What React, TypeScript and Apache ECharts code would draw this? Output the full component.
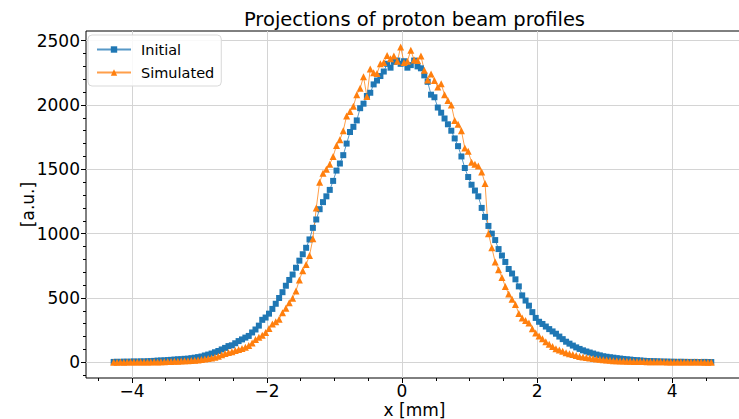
import React, { useEffect, useRef } from "react";
import * as echarts from "echarts";

const xValues = [
  -4.27, -4.22, -4.17, -4.12, -4.07, -4.02, -3.97, -3.92, -3.87, -3.82,
  -3.77, -3.72, -3.67, -3.62, -3.57, -3.52, -3.47, -3.42, -3.37, -3.32,
  -3.27, -3.22, -3.17, -3.12, -3.07, -3.02, -2.97, -2.92, -2.87, -2.82,
  -2.77, -2.72, -2.67, -2.62, -2.57, -2.52, -2.47, -2.42, -2.37, -2.32,
  -2.27, -2.22, -2.17, -2.12, -2.07, -2.02, -1.97, -1.92, -1.87, -1.82,
  -1.77, -1.72, -1.67, -1.62, -1.57, -1.52, -1.47, -1.42, -1.37, -1.32,
  -1.27, -1.22, -1.17, -1.12, -1.07, -1.02, -0.97, -0.92, -0.87, -0.82,
  -0.77, -0.72, -0.67, -0.62, -0.57, -0.52, -0.47, -0.42, -0.37, -0.32,
  -0.27, -0.22, -0.17, -0.12, -0.07, -0.02, 0.03, 0.08, 0.13, 0.18,
  0.23, 0.28, 0.33, 0.38, 0.43, 0.48, 0.53, 0.58, 0.63, 0.68,
  0.73, 0.78, 0.83, 0.88, 0.93, 0.98, 1.03, 1.08, 1.13, 1.18,
  1.23, 1.28, 1.33, 1.38, 1.43, 1.48, 1.53, 1.58, 1.63, 1.68,
  1.73, 1.78, 1.83, 1.88, 1.93, 1.98, 2.03, 2.08, 2.13, 2.18,
  2.23, 2.28, 2.33, 2.38, 2.43, 2.48, 2.53, 2.58, 2.63, 2.68,
  2.73, 2.78, 2.83, 2.88, 2.93, 2.98, 3.03, 3.08, 3.13, 3.18,
  3.23, 3.28, 3.33, 3.38, 3.43, 3.48, 3.53, 3.58, 3.63, 3.68,
  3.73, 3.78, 3.83, 3.88, 3.93, 3.98, 4.03, 4.08, 4.13, 4.18,
  4.23, 4.28, 4.33, 4.38, 4.43, 4.48, 4.53, 4.58,
];

const initialValues = [
  3, 4, 3, 5, 4, 5, 6, 5, 7, 6,
  8, 9, 11, 13, 14, 15, 17, 19, 21, 23,
  24, 27, 28, 32, 36, 40, 45, 53, 60, 68,
  78, 88, 100, 112, 126, 132, 148, 165, 178, 192,
  205, 232, 255, 285, 330, 348, 378, 415, 455, 500,
  545, 595, 640, 682, 735, 790, 840, 890, 955, 1045,
  1110, 1190, 1245, 1290, 1340, 1410, 1490, 1545, 1610, 1700,
  1790, 1830, 1880, 1975, 2010, 2070, 2095, 2160, 2190, 2225,
  2260, 2320, 2290, 2335, 2345, 2320, 2340, 2290, 2310, 2345,
  2300, 2285, 2230, 2180, 2080, 2060, 1980, 1940, 1895, 1850,
  1800, 1740, 1680, 1600, 1510, 1440, 1380, 1335, 1290, 1200,
  1130, 1060, 1000, 950, 880, 830, 780, 725, 690, 645,
  590, 520, 480, 440, 390, 345, 315, 298, 278, 258,
  240, 222, 200, 180, 160, 145, 130, 116, 104, 93,
  84, 76, 68, 60, 54, 47, 43, 39, 36, 32,
  29, 26, 23, 21, 18, 16, 14, 12, 10, 9,
  8, 7, 6, 5, 5, 4, 4, 3, 4, 3,
  3, 2, 3, 2, 2, 3, 2, 2,
];

const simulatedValues = [
  1, 1, 2, 1, 2, 2, 2, 3, 2, 3,
  3, 3, 4, 3, 4, 5, 6, 7, 8, 9,
  10, 12, 12, 14, 16, 18, 21, 25, 29, 33,
  40, 48, 58, 68, 76, 82, 92, 100, 108, 117,
  130, 150, 178, 195, 210, 232, 262, 298, 315, 335,
  385, 420, 462, 498, 555, 640, 712, 760, 830, 960,
  1200, 1400, 1470, 1500, 1540, 1600, 1685, 1730, 1800, 1915,
  1950, 1990, 2080, 2130, 2220, 2065, 2280, 2250, 2245, 2320,
  2330, 2385, 2360, 2380, 2340, 2450, 2330, 2340, 2425, 2350,
  2345, 2380, 2270, 2195, 2240, 2190, 2140, 2165, 2080, 2035,
  2000, 1880, 1850, 1800, 1665, 1640, 1555, 1540, 1525, 1480,
  1390, 1000, 890, 780, 720, 660, 590, 530, 490, 450,
  380, 345, 325, 305, 260, 228, 205, 184, 160, 140,
  122, 106, 96, 86, 75, 67, 60, 52, 46, 41,
  37, 33, 30, 26, 23, 20, 18, 15, 13, 12,
  11, 10, 9, 8, 7, 7, 6, 6, 5, 5,
  4, 4, 4, 4, 3, 3, 3, 3, 2, 2,
  2, 2, 2, 2, 2, 1, 1, 1,
];

const xTicks = [-4, -2, 0, 2, 4];
const xMinorTicks = [-4.5, -4, -3.5, -3, -2.5, -2, -1.5, -1, -0.5, 0, 0.5, 1, 1.5, 2, 2.5, 3, 3.5, 4, 4.5, 5];
const yTicks = [0, 500, 1000, 1500, 2000, 2500];
const yMinorTicks = [
  -100, 0, 100, 200, 300, 400, 500, 600, 700, 800, 900, 1000, 1100, 1200,
  1300, 1400, 1500, 1600, 1700, 1800, 1900, 2000, 2100, 2200, 2300, 2400, 2500,
];

const titleText = "Projections of proton beam profiles";
const xName = "x [mm]";
const yName = "[a.u.]";
const seriesNames = ["Initial", "Simulated"];

const FONT = '"DejaVu Sans", sans-serif';
const X_MIN = -4.68;
const X_MAX = 5.05;
const Y_MIN = -122;
const Y_MAX = 2575;

const fmt = (v: number) => (v < 0 ? "\u2212" + Math.abs(v) : String(v));

export default function App() {
  const ref = useRef<HTMLDivElement>(null);

  useEffect(() => {
    document.body.style.margin = "0";
    if (!ref.current) return;
    const chart = echarts.init(ref.current, null, { renderer: "svg" });

    const initialData = xValues.map((x, i) => [x, initialValues[i]]);
    const simulatedData = xValues.map((x, i) => [x, simulatedValues[i]]);

    const option: any = {
      animation: false,
      textStyle: { fontFamily: FONT },
      grid: {
        left: 86,
        top: 31,
        width: 657,
        height: 347,
        show: true,
        borderColor: "#000",
        borderWidth: 1,
        backgroundColor: "transparent",
        outerBoundsMode: "none",
        containLabel: false,
      },
      graphic: [
        {
          type: "text",
          x: 414.5,
          y: 19,
          style: {
            text: titleText,
            fontSize: 19.5,
            fontFamily: FONT,
            fill: "#000",
            align: "center",
            verticalAlign: "middle",
          },
        },
      ],
      legend: {
        orient: "vertical",
        left: 88,
        top: 35,
        data: seriesNames,
        itemWidth: 34,
        itemHeight: 8,
        itemGap: 8,
        padding: [7, 7, 6, 8],
        backgroundColor: "rgba(255,255,255,0.85)",
        borderColor: "#d9d9d9",
        borderWidth: 1,
        borderRadius: 4,
        textStyle: { fontSize: 14.5, color: "#000", fontFamily: FONT, padding: [0, 0, 0, 5] },
      },
      xAxis: [
        {
          type: "value",
          min: X_MIN,
          max: X_MAX,
          position: "bottom",
          name: xName,
          nameLocation: "middle",
          nameGap: 24,
          nameMoveOverlap: false,
          nameTextStyle: { fontSize: 17, color: "#000", fontFamily: FONT, lineHeight: 15 },
          axisLine: { show: false, onZero: false },
          axisTick: { show: true, length: 5, lineStyle: { color: "#000" }, customValues: xTicks },
          axisLabel: {
            customValues: xTicks,
            fontSize: 17,
            lineHeight: 15,
            color: "#000",
            margin: 5,
            formatter: fmt,
          },
          splitLine: { show: true, lineStyle: { color: "#d4d4d4", width: 1 } },
        },
        {
          type: "value",
          min: X_MIN,
          max: X_MAX,
          position: "bottom",
          axisLine: { show: false, onZero: false },
          axisTick: { show: true, length: 3, lineStyle: { color: "#000" }, customValues: xMinorTicks },
          axisLabel: { show: false },
          splitLine: { show: false },
        },
      ],
      yAxis: [
        {
          type: "value",
          min: Y_MIN,
          max: Y_MAX,
          position: "left",
          name: yName,
          nameLocation: "middle",
          nameGap: 50,
          nameMoveOverlap: false,
          nameTextStyle: { fontSize: 17, color: "#000", fontFamily: FONT },
          axisLine: { show: false, onZero: false },
          axisTick: { show: true, length: 5, lineStyle: { color: "#000" }, customValues: yTicks },
          axisLabel: {
            customValues: yTicks,
            fontSize: 17,
            color: "#000",
            margin: 6,
            formatter: fmt,
          },
          splitLine: { show: true, lineStyle: { color: "#d4d4d4", width: 1 } },
        },
        {
          type: "value",
          min: Y_MIN,
          max: Y_MAX,
          position: "left",
          axisLine: { show: false, onZero: false },
          axisTick: { show: true, length: 3, lineStyle: { color: "#000" }, customValues: yMinorTicks },
          axisLabel: { show: false },
          splitLine: { show: false },
        },
      ],
      series: [
        {
          name: seriesNames[0],
          type: "line",
          data: initialData,
          symbol: "rect",
          symbolSize: 6,
          showSymbol: true,
          showAllSymbol: true,
          silent: true,
          lineStyle: { color: "#1f77b4", width: 1, opacity: 0.75 },
          itemStyle: { color: "#1f77b4" },
          emphasis: { disabled: true },
        },
        {
          name: seriesNames[1],
          type: "line",
          data: simulatedData,
          symbol: "triangle",
          symbolSize: 7,
          showSymbol: true,
          showAllSymbol: true,
          silent: true,
          lineStyle: { color: "#ff7f0e", width: 1, opacity: 0.75 },
          itemStyle: { color: "#ff7f0e" },
          emphasis: { disabled: true },
        },
      ],
    };

    chart.setOption(option);
    return () => chart.dispose();
  }, []);

  return <div ref={ref} style={{ width: 739, height: 419 }} />;
}
